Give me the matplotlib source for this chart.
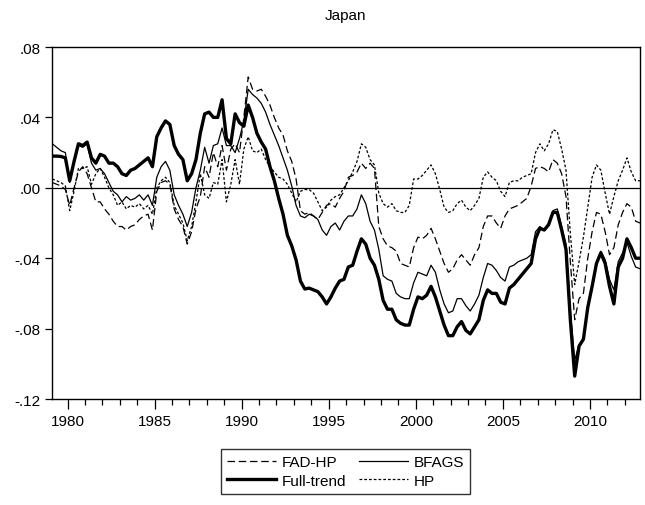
import numpy as np
import matplotlib
matplotlib.use("Agg")
import matplotlib.pyplot as plt
from matplotlib.ticker import FixedLocator, MultipleLocator

plt.rcParams['font.family'] = ['Liberation Sans', 'DejaVu Sans']

# Quarterly observations, 1979Q1 .. 2012Q4 (136 quarters)
start_year = 1979
n_obs = 136

full_trend = [
    0.018, 0.018, 0.0178, 0.017, 0.004, 0.015, 0.025, 0.024, 0.026, 0.017,
    0.014, 0.019, 0.018, 0.014, 0.014, 0.012, 0.008, 0.007, 0.010, 0.011,
    0.013, 0.015, 0.017, 0.012, 0.029, 0.034, 0.038, 0.036, 0.024, 0.019,
    0.016, 0.004, 0.008, 0.016, 0.031, 0.042, 0.043, 0.040, 0.040, 0.050,
    0.028, 0.025, 0.042, 0.037, 0.035, 0.047, 0.040, 0.031, 0.026, 0.022,
    0.012, 0.004, -0.006, -0.015, -0.027, -0.033, -0.041, -0.053, -0.0575, -0.057,
    -0.058, -0.059, -0.062, -0.066, -0.062, -0.057, -0.053, -0.052, -0.045, -0.044,
    -0.036, -0.029, -0.032, -0.040, -0.044, -0.052, -0.064, -0.069, -0.069, -0.075,
    -0.077, -0.078, -0.078, -0.069, -0.062, -0.063, -0.061, -0.056, -0.062, -0.070,
    -0.078, -0.084, -0.084, -0.079, -0.076, -0.081, -0.083, -0.079, -0.075, -0.064,
    -0.058, -0.060, -0.060, -0.065, -0.066, -0.057, -0.055, -0.052, -0.049, -0.046,
    -0.043, -0.029, -0.023, -0.024, -0.021, -0.014, -0.014, -0.024, -0.035, -0.075,
    -0.107, -0.090, -0.086, -0.068, -0.056, -0.043, -0.037, -0.043, -0.056, -0.066,
    -0.045, -0.040, -0.029, -0.034, -0.040, -0.040,
]

bfags = [
    0.025, 0.023, 0.021, 0.020, 0.003, 0.014, 0.024, 0.023, 0.025, 0.014,
    0.010, 0.011, 0.008, 0.003, -0.002, -0.004, -0.008, -0.005, -0.007, -0.006,
    -0.004, -0.007, -0.004, -0.010, 0.006, 0.012, 0.015, 0.010, -0.004, -0.010,
    -0.015, -0.022, -0.014, 0.000, 0.010, 0.023, 0.014, 0.024, 0.025, 0.034,
    0.024, 0.024, 0.020, 0.028, 0.038, 0.056, 0.053, 0.051, 0.048, 0.043,
    0.036, 0.030, 0.024, 0.017, 0.010, 0.001, -0.010, -0.016, -0.017, -0.015,
    -0.016, -0.018, -0.024, -0.027, -0.022, -0.020, -0.024, -0.019, -0.016, -0.016,
    -0.012, -0.004, -0.009, -0.019, -0.024, -0.035, -0.050, -0.052, -0.053, -0.060,
    -0.062, -0.063, -0.063, -0.054, -0.048, -0.049, -0.050, -0.044, -0.048, -0.058,
    -0.066, -0.071, -0.070, -0.063, -0.063, -0.067, -0.070, -0.066, -0.061, -0.051,
    -0.043, -0.044, -0.047, -0.051, -0.053, -0.045, -0.044, -0.042, -0.041, -0.040,
    -0.038, -0.025, -0.022, -0.024, -0.020, -0.013, -0.012, -0.022, -0.032, -0.070,
    -0.098, -0.089, -0.087, -0.068, -0.056, -0.042, -0.036, -0.041, -0.052, -0.058,
    -0.042, -0.037, -0.031, -0.039, -0.045, -0.046,
]

fad_hp = [
    0.003, 0.002, 0.001, -0.001, -0.010, 0.000, 0.009, 0.012, 0.008, 0.000,
    -0.008, -0.008, -0.012, -0.015, -0.019, -0.022, -0.022, -0.024, -0.022, -0.021,
    -0.018, -0.016, -0.015, -0.024, -0.002, 0.003, 0.004, 0.002, -0.012, -0.018,
    -0.022, -0.032, -0.025, -0.012, -0.005, 0.012, 0.006, 0.020, 0.012, 0.024,
    0.010, 0.022, 0.025, 0.020, 0.040, 0.063, 0.056, 0.055, 0.056, 0.052,
    0.047, 0.040, 0.034, 0.030, 0.021, 0.015, 0.005, -0.013, -0.015, -0.014,
    -0.016, -0.018, -0.014, -0.010, -0.009, -0.011, -0.006, -0.002, 0.006, 0.007,
    0.009, 0.014, 0.011, 0.014, 0.011, -0.022, -0.029, -0.033, -0.034, -0.036,
    -0.043, -0.044, -0.045, -0.034, -0.028, -0.029, -0.027, -0.023, -0.029, -0.036,
    -0.043, -0.048, -0.046, -0.041, -0.038, -0.041, -0.044, -0.038, -0.034, -0.022,
    -0.016, -0.016, -0.020, -0.023, -0.016, -0.012, -0.011, -0.010, -0.008, -0.006,
    0.001, 0.011, 0.012, 0.011, 0.009, 0.016, 0.014, 0.008, -0.005, -0.042,
    -0.075, -0.063, -0.060, -0.040, -0.025, -0.014, -0.015, -0.025, -0.038, -0.034,
    -0.021, -0.014, -0.009, -0.011, -0.019, -0.020,
]

hp = [
    0.005, 0.004, 0.003, 0.001, -0.013, -0.002, 0.011, 0.011, 0.012, 0.002,
    0.008, 0.011, 0.006, 0.000, -0.004, -0.010, -0.008, -0.012, -0.010, -0.011,
    -0.009, -0.012, -0.010, -0.015, 0.000, 0.004, 0.006, 0.003, -0.010, -0.015,
    -0.020, -0.030, -0.022, -0.008, 0.008, -0.004, -0.006, 0.003, 0.002, 0.016,
    -0.008, 0.002, 0.016, 0.002, 0.022, 0.029, 0.021, 0.020, 0.022, 0.016,
    0.012, 0.009, 0.006, 0.005, 0.002, -0.003, -0.008, -0.002, -0.001, -0.001,
    -0.003, -0.008, -0.013, -0.011, -0.007, -0.005, -0.004, 0.000, 0.004, 0.009,
    0.015, 0.025, 0.023, 0.016, 0.013, -0.003, -0.009, -0.011, -0.009, -0.013,
    -0.014, -0.014, -0.010, 0.005, 0.005, 0.007, 0.010, 0.013, 0.008, -0.001,
    -0.011, -0.014, -0.013, -0.009, -0.007, -0.011, -0.013, -0.010, -0.006, 0.006,
    0.009, 0.006, 0.004, -0.002, -0.005, 0.003, 0.004, 0.004, 0.006, 0.007,
    0.008, 0.020, 0.025, 0.021, 0.025, 0.033, 0.032, 0.022, 0.010, -0.026,
    -0.055, -0.042, -0.028, -0.011, 0.006, 0.013, 0.010, -0.003, -0.015, -0.005,
    0.004, 0.010, 0.017, 0.009, 0.004, 0.004,
]

y_ticks = [0.08, 0.04, 0.00, -0.04, -0.08, -0.12]
y_tick_labels = [".08", ".04", ".00", "-.04", "-.08", "-.12"]
x_major_years = [1980, 1985, 1990, 1995, 2000, 2005, 2010]

# time axis: quarter midpoints
t = start_year + 0.125 + np.arange(n_obs) / 4.0

fig = plt.figure(figsize=(6.45, 5.06), dpi=100)
ax = fig.add_axes([52.3 / 645, 1 - 400 / 506, (640 - 52.3) / 645, (400 - 48) / 506])

ax.axhline(0.0, color='black', lw=0.9, zorder=1)
l_fad, = ax.plot(t, fad_hp, color='black', lw=0.9, dashes=(6, 3), label='FAD-HP')
l_bf, = ax.plot(t, bfags, color='black', lw=0.9, label='BFAGS')
l_ft, = ax.plot(t, full_trend, color='black', lw=2.4, label='Full-trend')
l_hp, = ax.plot(t, hp, color='black', lw=0.9, dashes=(2.2, 1.6), label='HP')

ax.set_xlim(t[0], t[-1])
ax.set_ylim(-0.12, 0.08)
ax.set_yticks(y_ticks)
ax.set_yticklabels(y_tick_labels)
ax.xaxis.set_major_locator(FixedLocator(x_major_years))
ax.xaxis.set_minor_locator(MultipleLocator(1))
ax.set_xticklabels([str(y) for y in x_major_years])
ax.tick_params(axis='both', which='major', labelsize=11, direction='out', length=5, width=0.9, color='black')
ax.tick_params(axis='x', which='major', length=7)
ax.tick_params(axis='x', which='minor', direction='out', length=4, width=0.9)
ax.tick_params(axis='x', pad=4)
for s in ax.spines.values():
    s.set_linewidth(1.0)
    s.set_color('black')

fig.text(0.5357, 1 - 16 / 506, "Japan", ha='center', va='center', fontsize=11)

leg = fig.legend(handles=[l_fad, l_ft, l_bf, l_hp], ncol=2, loc='center',
                 bbox_to_anchor=(345.5 / 645, 1 - 472.5 / 506), fontsize=11,
                 frameon=True, fancybox=False, edgecolor='black', handlelength=3.2,
                 handletextpad=0.4, columnspacing=0.8, labelspacing=0.3,
                 borderpad=0.4)
leg.get_frame().set_linewidth(1.0)

fig.savefig("out.png", dpi=100)
